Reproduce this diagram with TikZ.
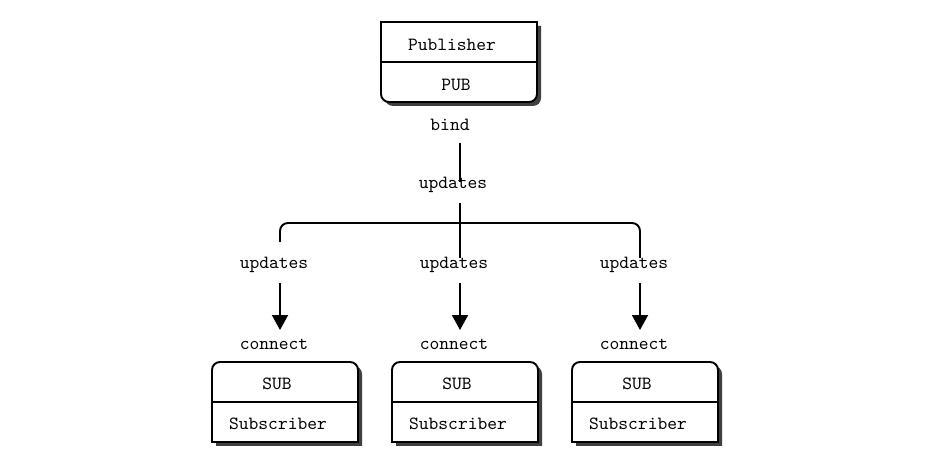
\documentclass[tikz,border=0pt]{standalone}
\usetikzlibrary{arrows.meta,shadows}
\begin{document}
\begin{tikzpicture}[x=0.02cm, y=0.02cm, line width=1.1pt,
    word/.style={font=\ttfamily\fontsize{10.6}{12}\selectfont, inner sep=0pt, yshift=-0.03cm},
    sockbox/.style={fill=white, draw=black,
      drop shadow={shadow xshift=0.08cm, shadow yshift=-0.08cm, fill=black!75, opacity=1}},
    flow/.style={-{Triangle[length=0.3cm, width=0.32cm]}}]
    \useasboundingbox (0,0) rectangle (932,466);

    % Publisher box
    \draw[sockbox] (381,444) -- (537,444) -- (537,372)
        arc[start angle=0, end angle=-90, radius=0.16cm] -- (389,364)
        arc[start angle=270, end angle=180, radius=0.16cm] -- cycle;
    \draw (381,404) -- (537,404);
    \node[word] (pubname) at (452,423) {Publisher};
    \node[word] (pubsock) at (456,383) {PUB};
    \node[word] (bind) at (450,343) {bind};

    % Subscriber boxes
    \foreach \x/\n in {212/a, 392/b, 572/c} {
        \draw[sockbox] (\x,24) -- (\x,96)
            arc[start angle=180, end angle=90, radius=0.16cm] -- (\x+138,104)
            arc[start angle=90, end angle=0, radius=0.16cm] -- (\x+146,24) -- cycle;
        \draw (\x,64) -- (\x+146,64);
        \node[word] (sub\n) at (\x+65,84) {SUB};
        \node[word] (subname\n) at (\x+66,44) {Subscriber};
        \node[word] (con\n) at (\x+62,123) {connect};
        \node[word] (upd\n) at (\x+62,203) {updates};
        \coordinate (in\n) at (\x+68,183);
        \coordinate (out\n) at (\x+68,136);
        \draw[flow] (in\n) -- (out\n);
    }

    % Fan-out
    \node[word] (upd) at (453,283) {updates};
    \coordinate (b0) at (460,323);
    \coordinate (b1) at (460,284);
    \coordinate (b2) at (460,263);
    \coordinate (hub) at (460,243);
    \coordinate (ta) at (280,224);
    \coordinate (tb) at (460,208);
    \coordinate (tc) at (640,208);
    \draw (b0) -- (b1);
    \draw (b2) -- (tb);
    \draw[rounded corners=0.16cm] (ta) |- (hub) -| (tc);
\end{tikzpicture}
\end{document}
